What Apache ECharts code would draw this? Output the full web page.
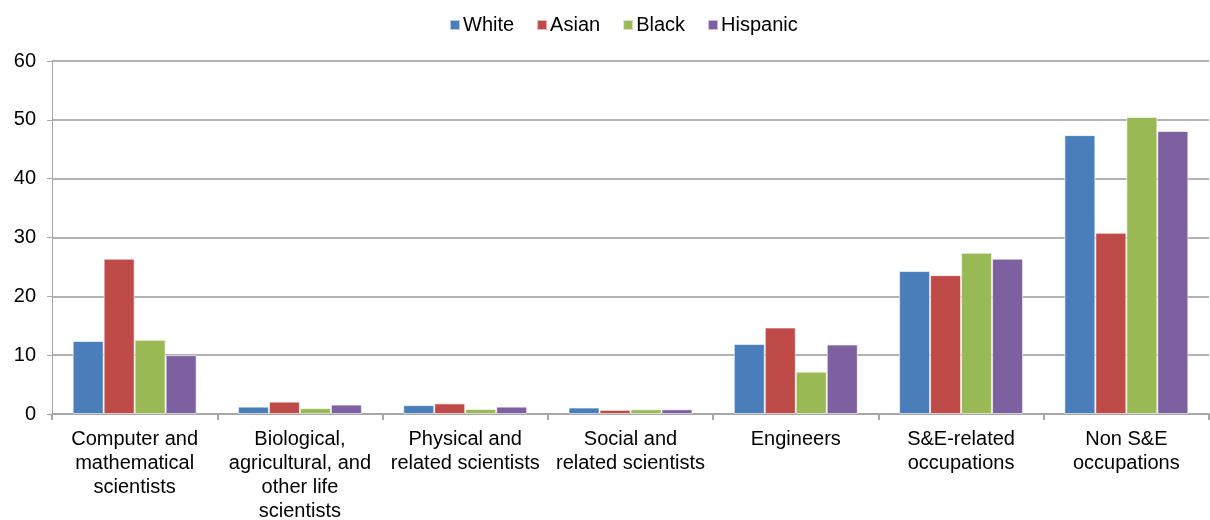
<!DOCTYPE html>
<html>
<head>
<meta charset="utf-8">
<script src="https://cdn.jsdelivr.net/npm/echarts@6/dist/echarts.min.js"></script>
<style>
    html, body { margin: 0; padding: 0; background: #fff; }
    #chart { width: 1210px; height: 520px; }
</style>
</head>
<body>
<div id="chart"></div>
<script>
var categories = [
    'Computer and\nmathematical\nscientists',
    'Biological,\nagricultural, and\nother life\nscientists',
    'Physical and\nrelated scientists',
    'Social and\nrelated scientists',
    'Engineers',
    'S&E-related\noccupations',
    'Non S&E\noccupations'
];
var seriesNames = ['White', 'Asian', 'Black', 'Hispanic'];
var white = [12.4, 1.25, 1.5, 1.1, 11.9, 24.3, 47.4];
var asian = [26.4, 2.1, 1.8, 0.7, 14.7, 23.6, 30.8];
var black = [12.6, 1.0, 0.85, 0.8, 7.2, 27.4, 50.5];
var hispanic = [10.0, 1.6, 1.25, 0.8, 11.8, 26.4, 48.1];
var colors = ['#4A7EBB', '#BE4B48', '#98B954', '#7D60A0'];

var chart = echarts.init(document.getElementById('chart'));
var values = [white, asian, black, hispanic];

chart.setOption({
    textStyle: { fontFamily: 'Liberation Sans, Arial, sans-serif' },
    color: colors,
    legend: {
        top: 10,
        left: 444,
        icon: 'rect',
        itemWidth: 10,
        itemHeight: 10,
        itemGap: 22,
        textStyle: { color: '#000', fontSize: 20, padding: [0, 0, 0, -2] },
        data: seriesNames
    },
    grid: { left: 52, right: 1, top: 61, bottom: 106, outerBoundsMode: 'none', containLabel: false },
    xAxis: {
        type: 'category',
        data: categories,
        axisLine: { lineStyle: { color: '#A6A6A6', width: 2 } },
        axisTick: { show: true, length: 6, lineStyle: { color: '#A6A6A6', width: 2 } },
        axisLabel: { color: '#000', fontSize: 20, lineHeight: 24, margin: 13, interval: 0 }
    },
    yAxis: {
        type: 'value',
        min: 0,
        max: 60,
        interval: 10,
        axisLine: { show: true, lineStyle: { color: '#A6A6A6', width: 1 } },
        axisTick: { show: true, length: 5, lineStyle: { color: '#A6A6A6' } },
        axisLabel: { color: '#000', fontSize: 20, margin: 16 },
        splitLine: { lineStyle: { color: '#B3B3B3', width: 2 } }
    },
    series: seriesNames.map(function (name, i) {
        return {
            name: name,
            type: 'bar',
            data: values[i],
            barGap: '0%',
            barCategoryGap: '25%',
            itemStyle: { borderColor: 'rgba(255,255,255,0.6)', borderWidth: 1 }
        };
    })
});
</script>
</body>
</html>
